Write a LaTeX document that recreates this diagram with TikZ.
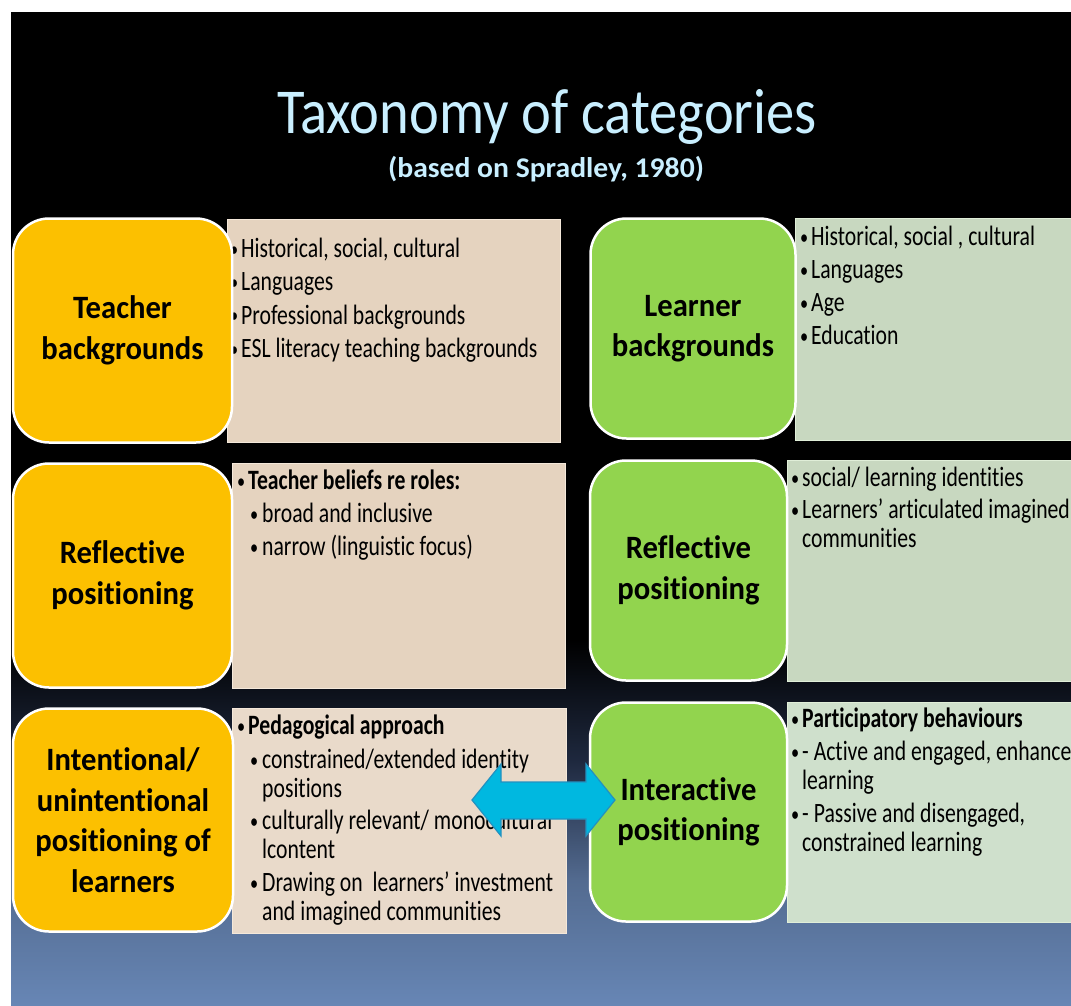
\documentclass[tikz,border=0pt]{standalone}
\usepackage{fontspec}
\setmainfont{Carlito}
\newfontfamily\bodyfont[FakeStretch=0.775,Ligatures=NoCommon]{Carlito}
\newfontfamily\catfont[FakeStretch=0.94,Ligatures=NoCommon]{Carlito}
\newfontfamily\headfont[FakeStretch=0.883,Ligatures=NoCommon]{Carlito}
\newfontfamily\subheadfont[FakeStretch=1.04,Ligatures=NoCommon]{Carlito}

\definecolor{headcol}{RGB}{201,239,255}
\definecolor{catyellow}{RGB}{252,192,0}
\definecolor{catgreen}{RGB}{146,212,78}
\definecolor{tanfill}{RGB}{229,211,191}
\definecolor{tanfillb}{RGB}{233,218,202}
\definecolor{tanedge}{RGB}{244,232,218}
\definecolor{sagefill}{RGB}{200,216,192}
\definecolor{sagefillb}{RGB}{207,224,204}
\definecolor{sageedge}{RGB}{224,238,216}
\definecolor{arrowfill}{RGB}{0,184,224}
\definecolor{arrowedge}{RGB}{35,145,192}
\definecolor{bgA}{RGB}{30,40,62}
\definecolor{bgB}{RGB}{83,107,144}
\definecolor{bgC}{RGB}{103,134,181}

% bullet helpers for the detail lists
\newcommand\dotmark{\raisebox{1.5pt}{\fontsize{21}{21}\selectfont•}}
\newcommand\bpt{\makebox[11pt][l]{\dotmark}}
\newcommand\subpt{\hspace*{13pt}\makebox[12pt][l]{\dotmark}}
\newcommand\ctn{\hspace*{11pt}}
\newcommand\subctn{\hspace*{25pt}}

\tikzset{
  catbox/.style={draw=white, line width=2.5pt, rounded corners=36pt, fill=#1,
    align=center, text=black, inner sep=0pt,
    font=\catfont\bfseries\fontsize{32.6}{40.5}\selectfont},
  detailbox/.style={draw=#1, line width=1.2pt, inner sep=0pt, anchor=north west},
  % top of node = first baseline minus 21pt
  bodytext/.style={anchor=north west, align=left, inner sep=0pt, text=black,
    font=\bodyfont\fontsize{28}{29}\selectfont,
    execute at begin node={\rule{0pt}{21pt}}},
}

\begin{document}
\begin{tikzpicture}[x=1pt,y=-1pt]
\useasboundingbox (0,0) rectangle (1071,1005);
\clip (0,0) rectangle (1071,1005);
\fill[white] (0,0) rectangle (1071,1005);

% slide background: black fading into blue
\fill[black] (11,12) rectangle (1071,640.5);
\shade[top color=black, bottom color=bgA] (11,640) rectangle (1071,760.5);
\shade[top color=bgA, bottom color=bgB] (11,760) rectangle (1071,880.5);
\shade[top color=bgB, bottom color=bgC] (11,880) rectangle (1071,1005);

% heading
\node[anchor=base, inner sep=0pt, text=headcol,
      font=\headfont\fontsize{64}{70}\selectfont] (title) at (547,133)
      {Taxonomy of categories};
\node[anchor=base, inner sep=0pt, text=headcol,
      font=\subheadfont\bfseries\fontsize{28.5}{30}\selectfont] (subtitle) at (546,177)
      {(based on Spradley, 1980)};

% detail panels, teacher side
\node[detailbox=tanedge, fill=tanfill, minimum width=333pt, minimum height=223pt] (tbd) at (227,219) {};
\node[detailbox=tanedge, fill=tanfill, minimum width=333pt, minimum height=225pt] (rpd) at (232,463) {};
\node[detailbox=tanedge, fill=tanfillb, minimum width=334pt, minimum height=225pt] (ipd) at (232,708) {};

% detail panels, learner side
\node[detailbox=sageedge, fill=sagefill, minimum width=290pt, minimum height=222pt] (lbd) at (795,218) {};
\node[detailbox=sageedge, fill=sagefill, minimum width=300pt, minimum height=221pt] (lrd) at (787,460) {};
\node[detailbox=sageedge, fill=sagefillb, minimum width=300pt, minimum height=220pt] (lid) at (787,702) {};

% panel texts
\node[bodytext] (tbt) at (230,238) {\bpt Historical, social, cultural\\[4.3pt]
  \bpt Languages\\[4.3pt]
  \bpt Professional backgrounds\\[4.3pt]
  \bpt ESL literacy teaching backgrounds};
\node[bodytext] (rpt) at (237,470) {\bpt\textbf{Teacher beliefs re roles:}\\[4pt]
  \subpt broad and inclusive\\[4pt]
  \subpt narrow (linguistic focus)};
\node[bodytext] (ipt) at (237,715) {\bpt\textbf{Pedagogical approach}\\[5pt]
  \subpt constrained/extended identity\\
  \subctn positions\\[3pt]
  \subpt culturally relevant/ monocultural\\
  \subctn lcontent\\[4pt]
  \subpt Drawing on\ \ learners’ investment\\
  \subctn and imagined communities};
\node[bodytext] (lbt) at (800,226) {\bpt Historical, social , cultural\\[4pt]
  \bpt Languages\\[4pt]
  \bpt Age\\[4pt]
  \bpt Education};
\node[bodytext] (lrt) at (791,467) {\bpt social/ learning identities\\[3pt]
  \bpt Learners’ articulated imagined\\
  \ctn communities};
\node[bodytext] (lit) at (791,708) {\bpt\textbf{Participatory behaviours}\\[4pt]
  \bpt - Active and engaged, enhanced\\
  \ctn learning\\[4pt]
  \bpt - Passive and disengaged,\\
  \ctn constrained learning};

% category boxes
\node[catbox=catyellow, minimum width=219pt, minimum height=224pt] (tb) at (122.5,330.5) {Teacher\\backgrounds};
\node[catbox=catyellow, minimum width=219pt, minimum height=224pt] (rp) at (122.5,575.5) {Reflective\\positioning};
\node[catbox=catyellow, minimum width=220pt, minimum height=223pt] (ip) at (123,820) {Intentional/\\unintentional\\positioning of\\learners};
\node[catbox=catgreen, minimum width=205pt, minimum height=220pt] (lb) at (693,328.5) {Learner\\backgrounds};
\node[catbox=catgreen, minimum width=197pt, minimum height=220pt] (lr) at (688.5,570.5) {Reflective\\positioning};
\node[catbox=catgreen, minimum width=197pt, minimum height=219pt] (li) at (688.5,812) {Interactive\\positioning};

% two-way block arrow between the positioning rows
\draw[draw=arrowedge, fill=arrowfill, line width=1.2pt, line join=miter]
  (472,800) -- (501,764) -- (501,782) -- (586,782) -- (586,764) -- (615,800)
  -- (586,836) -- (586,819) -- (501,819) -- (501,836) -- cycle;
\end{tikzpicture}
\end{document}
